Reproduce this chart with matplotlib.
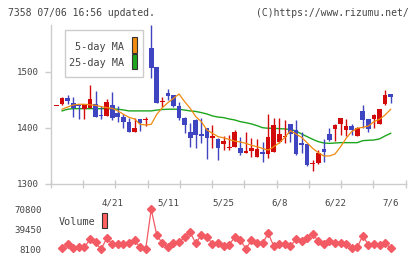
import matplotlib
matplotlib.use("Agg")
import matplotlib.pyplot as plt
import numpy as np
from matplotlib.patches import Rectangle

# ---------------- data ----------------
opens = [1439, 1443, 1453.5, 1444, 1440, 1433, 1436, 1442, 1423, 1421,
         1441, 1427, 1420, 1410, 1392, 1415, 1413, 1542, 1508, 1446,
         1462, 1458, 1439, 1418, 1393, 1414, 1388, 1399, 1382.5, 1380,
         1371, 1364.5, 1365, 1363, 1355, 1358, 1348, 1357, 1352.5, 1357,
         1375, 1384, 1406, 1396, 1372, 1371, 1335.5, 1336.5, 1362, 1389,
         1398, 1407, 1396, 1403, 1386, 1430, 1416, 1415, 1407, 1442, 1460]
highs = [1439.5, 1454, 1458.5, 1455, 1440, 1443, 1476, 1466, 1439, 1452,
         1463, 1438, 1424, 1418, 1417, 1416, 1420, 1583, 1509, 1455,
         1469, 1459, 1446, 1419, 1409, 1415, 1417, 1400, 1405, 1381,
         1386, 1387, 1396, 1383, 1393, 1381, 1380, 1375, 1424, 1418,
         1418, 1414, 1406, 1413, 1392, 1371, 1342, 1360, 1380, 1399,
         1407, 1418, 1416, 1407, 1402, 1441, 1416, 1425, 1433, 1467, 1461]
lows = [1438.5, 1440, 1442, 1420, 1416, 1416, 1436, 1420, 1415, 1421,
        1414, 1410, 1399, 1392, 1392, 1395, 1403, 1489, 1445, 1437,
        1449, 1437, 1414, 1391, 1366, 1364, 1372, 1345, 1363, 1342,
        1360, 1360, 1365, 1352, 1355, 1347, 1348, 1338, 1346, 1357,
        1372, 1372, 1374, 1351, 1354, 1332, 1322, 1336, 1339, 1376,
        1377, 1387, 1385, 1387, 1386, 1399, 1392, 1399, 1407, 1441, 1444]
closes = [1439, 1453.5, 1448, 1435, 1438, 1442, 1451, 1420, 1421, 1446,
          1417, 1420, 1410, 1392, 1400, 1408, 1414, 1507, 1445, 1447,
          1457, 1438, 1417, 1405, 1382, 1387, 1386, 1382, 1383.5, 1364,
          1376, 1365.5, 1393, 1355.5, 1358.5, 1363, 1362, 1352.5, 1384, 1405,
          1389, 1385.5, 1388, 1353, 1370, 1334, 1336.5, 1354, 1357, 1378,
          1404, 1417, 1403, 1396, 1400, 1413, 1398, 1423, 1433, 1458, 1455.5]

ma5 = [1433, 1437, 1440.6, 1441.8, 1441.8, 1441, 1440, 1437.6, 1435.8, 1434.6,
       1430, 1424, 1418.6, 1415.6, 1406, 1404.9, 1406, 1424, 1435.8, 1444.7,
       1452.5, 1460.2, 1446.5, 1434.6, 1419.8, 1410.8, 1396, 1390, 1384, 1382,
       1379, 1376, 1374.5, 1372, 1368.6, 1366, 1363, 1360, 1366, 1373,
       1382.8, 1394.7, 1388.8, 1382.8, 1373, 1363, 1355.5, 1349.5, 1349.5, 1353,
       1366, 1381, 1393, 1399, 1400.7, 1403, 1410.8, 1415, 1422.7, 1432.8]
ma25 = [1430, 1433, 1434, 1434, 1434, 1434, 1434, 1434, 1434, 1434,
        1433, 1431.7, 1430, 1430, 1430, 1430, 1430, 1431.5, 1432.5, 1433,
        1433, 1433, 1431.5, 1430, 1429, 1427, 1424.5, 1421, 1419, 1418,
        1415.6, 1413.8, 1410.8, 1409, 1406.7, 1403.7, 1400, 1399, 1399, 1398.3,
        1397.7, 1397, 1394, 1388.8, 1384, 1379.3, 1375.1, 1372.7, 1372, 1372.7,
        1373.3, 1373.3, 1373.3, 1373.3, 1376.9, 1377.5, 1378, 1380, 1385.3, 1390]
volume = [9100, 15900, 9100, 10700, 10700, 23300, 18550, 7600, 24800, 15900,
          15900, 15900, 17000, 21700, 10700, 7600, 70300, 30050, 17000, 10700,
          17000, 18550, 26400, 34200, 17000, 30050, 27400, 15900, 17000, 12800,
          14400, 26900, 22200, 8600, 21700, 17000, 17000, 32650, 12800, 15900,
          15900, 12800, 23300, 21150, 25900, 31600, 20600, 15900, 20600, 18000,
          17000, 16500, 9100, 10700, 29000, 14400, 15900, 14400, 17000, 9650]

date_labels = ["4/21", "5/11", "5/25", "6/8", "6/22", "7/6"]
date_index = [10, 20, 30, 40, 50, 60]
price_ticks = [1300, 1400, 1500]
vol_ticks = [8100, 39450, 70800]

# ---------------- style ----------------
BLUE = "#3f45c0"
RED = "#d20a0a"
ORANGE = "#f08a10"
GREEN = "#1ea51e"
VOLC = "#f25a64"
AXC = "#cccccc"
TXT = "#444444"
MONO = "DejaVu Sans Mono"

W, H = 420, 259
fig = plt.figure(figsize=(W / 100, H / 100), dpi=100)
fig.patch.set_facecolor("white")

def px_box(x0, y0, x1, y1):
    return [x0 / W, 1 - y1 / H, (x1 - x0) / W, (y1 - y0) / H]

XMIN, XMAX = -1.05, 62.7

# ---------------- volume (drawn first, transparent) ----------------
vax = fig.add_axes(px_box(50.7, 200, 405.7, 255))
vax.patch.set_visible(False)
vax.set_xlim(XMIN, XMAX)
vax.set_ylim(-1305, 84908)
for s in vax.spines.values():
    s.set_visible(False)
vax.plot(np.arange(1, len(volume) + 1), volume, color=VOLC, lw=0.9,
         marker="D", markersize=3.6, markerfacecolor=VOLC,
         markeredgecolor=VOLC)
vax.set_xticks([])
vax.set_yticks(vol_ticks)
vax.set_yticklabels([str(v) for v in vol_ticks])
vax.tick_params(axis="y", length=0, labelsize=6.6, labelcolor=TXT, pad=6.5)
for lab in vax.get_yticklabels():
    lab.set_family(MONO)
fig.text(58.7 / W, 1 - 222 / H, "Volume", ha="left", va="center",
         family=MONO, fontsize=7.3, color=TXT)
fig.patches.append(Rectangle((101.7 / W, 1 - 228 / H), 5.6 / W, 15 / H,
                             transform=fig.transFigure, facecolor="#ff6060",
                             edgecolor="#333333", lw=0.8))

# ---------------- price ----------------
ax = fig.add_axes(px_box(50.7, 25, 405.7, 183.7))
ax.patch.set_visible(False)
ax.set_xlim(XMIN, XMAX)
ax.set_ylim(1300, 1583.4)
for s in ["top", "right"]:
    ax.spines[s].set_visible(False)
for s in ["left", "bottom"]:
    ax.spines[s].set_color(AXC)
    ax.spines[s].set_linewidth(1)

n = len(opens)
for i in range(n):
    o, h, l, c = opens[i], highs[i], lows[i], closes[i]
    col = RED if c >= o else BLUE
    ax.vlines(i, l, h, color=col, lw=1.0, zorder=3)
    body = max(abs(c - o), 1.9)
    ax.bar(i, body, bottom=min(o, c), width=0.84, color=col, lw=0, zorder=4)

mx = np.arange(1, n)
ax.plot(mx, ma25, color=GREEN, lw=1.0, zorder=2)
ax.plot(mx, ma5, color=ORANGE, lw=0.9, zorder=5)

ax.set_yticks(price_ticks)
ax.set_yticklabels([str(v) for v in price_ticks])
ax.tick_params(axis="y", direction="out", length=4.3, width=1, color=AXC,
               labelsize=6.6, labelcolor=TXT, pad=4)
for lab in ax.get_yticklabels():
    lab.set_family(MONO)

ax.set_xticks(date_index)
ax.set_xticklabels(date_labels)
ax.set_xticks(np.linspace(XMIN, XMAX, 12), minor=True)
ax.tick_params(axis="x", which="major", length=0, labelsize=6.6,
               labelcolor=TXT, pad=10.5)
ax.tick_params(axis="x", which="minor", direction="inout", length=5.8,
               width=1, color=AXC)
for lab in ax.get_xticklabels():
    lab.set_family(MONO)

# legend box (main)
fig.patches.append(Rectangle((65.3 / W, 1 - 77.3 / H), 78 / W, 47.3 / H,
                             transform=fig.transFigure, facecolor="white",
                             edgecolor=AXC, lw=1, zorder=10))
fig.text(124.3 / W, 1 - 46.7 / H, "5-day MA", ha="right", va="center",
         family=MONO, fontsize=7.3, color=TXT, zorder=11)
fig.text(124.3 / W, 1 - 63.3 / H, "25-day MA", ha="right", va="center",
         family=MONO, fontsize=7.3, color=TXT, zorder=11)
fig.patches.append(Rectangle((131.7 / W, 1 - 53.3 / H), 5.6 / W, 16 / H,
                             transform=fig.transFigure, facecolor=ORANGE,
                             edgecolor="#333333", lw=0.8, zorder=11))
fig.patches.append(Rectangle((131.7 / W, 1 - 69.3 / H), 5.6 / W, 15 / H,
                             transform=fig.transFigure, facecolor=GREEN,
                             edgecolor="#333333", lw=0.8, zorder=11))

# ---------------- header ----------------
fig.text(8 / W, 1 - 12.7 / H, "7358 07/06 16:56 updated.", ha="left",
         va="center", family=MONO, fontsize=7.0, color=TXT)
fig.text(409 / W, 1 - 12.7 / H, "(C)https://www.rizumu.net/", ha="right",
         va="center", family=MONO, fontsize=7.0, color=TXT)

fig.savefig("out.png", dpi=100, facecolor="white")
